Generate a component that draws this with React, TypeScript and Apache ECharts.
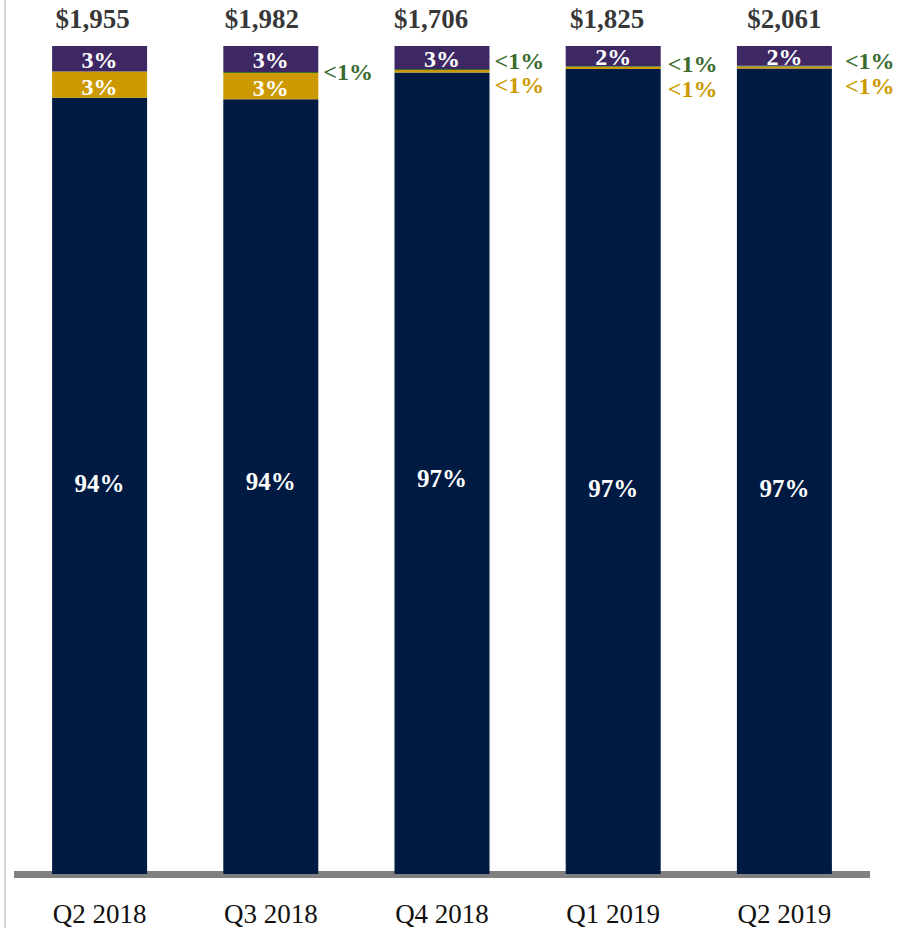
import React, { useEffect, useRef } from "react";
import * as echarts from "echarts";

const categories = ["Q2 2018", "Q3 2018", "Q4 2018", "Q1 2019", "Q2 2019"];
const totals = ["$1,955", "$1,982", "$1,706", "$1,825", "$2,061"];
const navyValues = [93.76, 93.56, 96.8, 97.23, 97.27];
const goldValues = [3.16, 3.18, 0.3, 0.25, 0.25];
const greenValues = [0, 0.12, 0.12, 0.1, 0.1];
const purpleValues = [3.08, 3.14, 2.78, 2.42, 2.38];
const navyLabels = ["94%", "94%", "97%", "97%", "97%"];
const goldLabels = ["3%", "3%", "<1%", "<1%", "<1%"];
const greenLabels = ["", "<1%", "<1%", "<1%", "<1%"];
const purpleLabels = ["3%", "3%", "3%", "2%", "2%"];

const FONT = "'Liberation Serif', 'Times New Roman', serif";
const NAVY = "#001a42";
const GOLD = "#cc9a00";
const GREEN = "#3b6b2e";
const PURPLE = "#3e2863";

export default function App() {
  const ref = useRef<HTMLDivElement>(null);
  useEffect(() => {
    document.body.style.margin = "0";
    const chart = echarts.init(ref.current!, null, { renderer: "svg" });
    const navyOffsets = [-2, -5, 5, 17, 17];
    const totalOffsets = [-7, -9, -11, -6, 0];
    const sideX = [0, 0, 0, 2, 8];
    const greenDy = [0, 0, -9, -2, -5.5];
    const goldDy = [0, 0, 14, 21.5, 18];

    const option: any = {
      animation: false,
      grid: { left: 14, right: 29, top: 46, bottom: 54 },
      xAxis: {
        type: "category",
        data: categories,
        offset: 3.5,
        axisLine: { lineStyle: { color: "#808080", width: 7, cap: "butt" } },
        axisTick: { show: false },
        axisLabel: { fontFamily: FONT, fontSize: 27, color: "#111", margin: 23 },
      },
      yAxis: { type: "value", min: 0, max: 100, show: false },
      graphic: [
        {
          type: "rect",
          shape: { x: 4, y: 0, width: 2, height: 928 },
          style: { fill: "#d4d4d4" },
          silent: true,
        },
      ],
      series: [
        {
          name: "navy",
          type: "bar",
          stack: "s",
          barWidth: 95,
          itemStyle: { color: NAVY },
          data: navyValues.map((v, i) => ({
            value: v,
            label: {
              show: true,
              position: "inside",
              offset: [0, navyOffsets[i]],
              formatter: navyLabels[i],
              color: "#fff",
              fontFamily: FONT,
              fontWeight: "bold",
              fontSize: 25,
            },
          })),
        },
        {
          name: "gold",
          type: "bar",
          stack: "s",
          itemStyle: { color: GOLD },
          data: goldValues.map((v, i) => ({
            value: v,
            label:
              i < 2
                ? {
                    show: true,
                    position: "inside",
                    offset: [0, 2],
                    formatter: goldLabels[i],
                    color: "#fff",
                    fontFamily: FONT,
                    fontWeight: "bold",
                    fontSize: 24,
                    lineHeight: 20,
                  }
                : {
                    show: true,
                    position: "right",
                    distance: 5,
                    offset: [sideX[i], goldDy[i]],
                    formatter: goldLabels[i],
                    color: GOLD,
                    fontFamily: FONT,
                    fontWeight: "bold",
                    fontSize: 24,
                    lineHeight: 20,
                  },
          })),
        },
        {
          name: "green",
          type: "bar",
          stack: "s",
          itemStyle: { color: GREEN },
          data: greenValues.map((v, i) => ({
            value: v,
            label: {
              show: greenLabels[i] !== "",
              position: "right",
              distance: 5,
              offset: [sideX[i], greenDy[i]],
              formatter: greenLabels[i],
              color: GREEN,
              fontFamily: FONT,
              fontWeight: "bold",
              fontSize: 24,
              lineHeight: 20,
            },
          })),
        },
        {
          name: "purple",
          type: "bar",
          stack: "s",
          itemStyle: { color: PURPLE },
          data: purpleValues.map((v, i) => ({
            value: v,
            label: {
              show: true,
              position: "inside",
              offset: [0, 1],
              formatter: purpleLabels[i],
              color: "#fff",
              fontFamily: FONT,
              fontWeight: "bold",
              fontSize: 24,
              lineHeight: 20,
            },
          })),
        },
        {
          name: "total",
          type: "scatter",
          symbolSize: 1,
          itemStyle: { color: "rgba(0,0,0,0)" },
          data: totals.map((t, i) => ({
            value: 100,
            label: {
              show: true,
              position: "top",
              distance: 13,
              offset: [totalOffsets[i], 0],
              formatter: t,
              color: "#000",
              fontFamily: FONT,
              fontWeight: "bold",
              fontSize: 27,
            },
          })),
        },
      ],
    };
    chart.setOption(option);
    return () => chart.dispose();
  }, []);
  return (
    <div
      ref={ref}
      style={{ position: "absolute", left: 0, top: 0, width: 899, height: 928 }}
    />
  );
}
